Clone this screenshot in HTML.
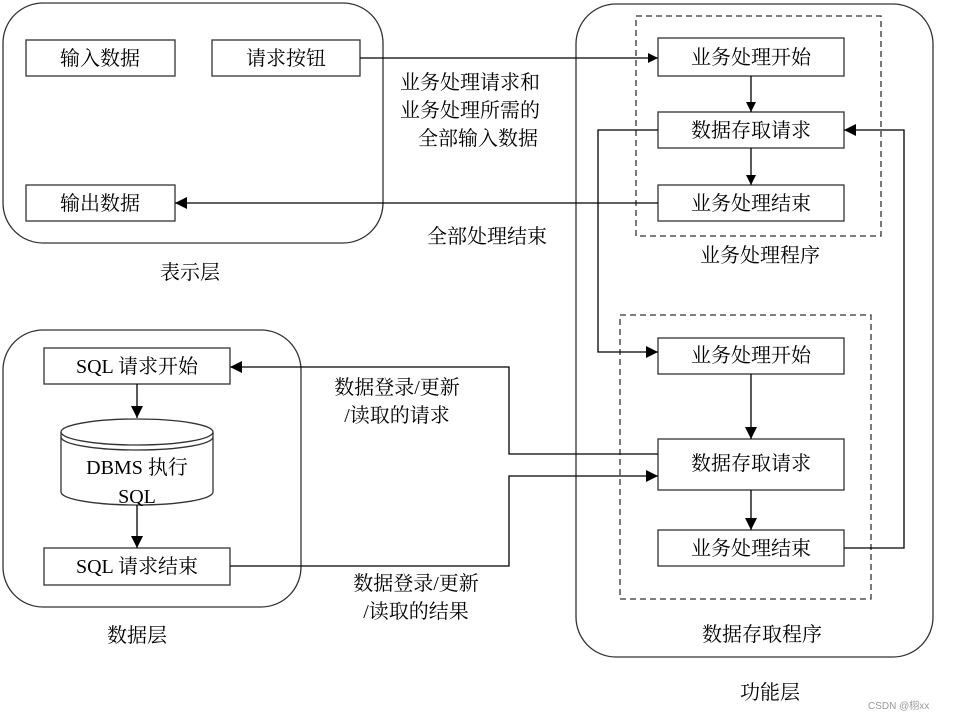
<!DOCTYPE html>
<html><head><meta charset="utf-8"><style>
body{margin:0;background:#fff}
text{font-family:"Liberation Serif","Noto Serif CJK SC",serif;font-size:20px;fill:#000}
</style></head><body>
<svg width="960" height="720" viewBox="0 0 960 720" xmlns="http://www.w3.org/2000/svg">
<defs><marker id="a" viewBox="0 0 10 10" refX="10" refY="5" markerWidth="10" markerHeight="10" markerUnits="userSpaceOnUse" orient="auto"><path d="M0,0L10,5L0,10z" fill="#000"/></marker>
<marker id="b" viewBox="0 0 10 10" refX="10" refY="5" markerWidth="16" markerHeight="12" markerUnits="userSpaceOnUse" orient="auto"><path d="M0,0L10,5L0,10z" fill="#000"/></marker></defs>
<g fill="none" stroke="#333" stroke-width="1.3">
<rect x="3" y="3" width="380" height="240" rx="40"/>
<rect x="3" y="330" width="298" height="277" rx="40"/>
<rect x="576" y="4" width="357" height="653" rx="40"/>
<rect x="636" y="16" width="245" height="220" stroke-dasharray="6,4"/>
<rect x="620" y="315" width="251" height="284" stroke-dasharray="6,4"/>
<rect x="26" y="40" width="149" height="36"/>
<rect x="212" y="40" width="148" height="36"/>
<rect x="26" y="185" width="149" height="36"/>
<rect x="658" y="38" width="186" height="38"/>
<rect x="658" y="112" width="186" height="36"/>
<rect x="658" y="185" width="186" height="36"/>
<rect x="658" y="338" width="186" height="36"/>
<rect x="658" y="439" width="186" height="51"/>
<rect x="658" y="530" width="186" height="36"/>
<rect x="44" y="348" width="186" height="36"/>
<rect x="44" y="548" width="186" height="37"/>
<path d="M61,432 V492 A76,13 0 0 0 213,492 V432" fill="#fff"/>
<ellipse cx="137" cy="432" rx="76" ry="13" fill="#fff"/>
<path d="M61,437 A76,13 0 0 0 213,437"/>
</g>
<g fill="none" stroke="#000" stroke-width="1.3">
<path d="M360,58 H658" marker-end="url(#a)"/>
<path d="M658,203 H175" marker-end="url(#b)"/>
<path d="M751,76 V112" marker-end="url(#a)"/>
<path d="M751,148 V185" marker-end="url(#a)"/>
<path d="M658,130 H598 V352 H658" marker-end="url(#b)"/>
<path d="M844,548 H904 V130 H844" marker-end="url(#b)"/>
<path d="M751,374 V439" marker-end="url(#b)"/>
<path d="M751,490 V530" marker-end="url(#b)"/>
<path d="M658,454 H509 V367 H230" marker-end="url(#b)"/>
<path d="M230,566 H509 V476 H658" marker-end="url(#b)"/>
<path d="M137,384 V418" marker-end="url(#b)"/>
<path d="M137,505 V548" marker-end="url(#b)"/>
</g>
<g text-anchor="middle">
<text x="100" y="65">输入数据</text>
<text x="286" y="65">请求按钮</text>
<text x="100" y="210">输出数据</text>
<text x="190" y="279">表示层</text>
<text x="470" y="89">业务处理请求和</text>
<text x="470" y="117">业务处理所需的</text>
<text x="478" y="145">全部输入数据</text>
<text x="487" y="243">全部处理结束</text>
<text x="751" y="64">业务处理开始</text>
<text x="751" y="137">数据存取请求</text>
<text x="751" y="210">业务处理结束</text>
<text x="760" y="262">业务处理程序</text>
<text x="751" y="362">业务处理开始</text>
<text x="751" y="470">数据存取请求</text>
<text x="751" y="555">业务处理结束</text>
<text x="762" y="641">数据存取程序</text>
<text x="770" y="699">功能层</text>
<text x="137" y="373">SQL 请求开始</text>
<text x="137" y="474">DBMS 执行</text>
<text x="137" y="503">SQL</text>
<text x="137" y="573">SQL 请求结束</text>
<text x="137" y="642">数据层</text>
<text x="397" y="394">数据登录/更新</text>
<text x="397" y="422">/读取的请求</text>
<text x="416" y="590">数据登录/更新</text>
<text x="416" y="618">/读取的结果</text>
</g>
<text x="868" y="709" style="font-family:'Liberation Sans','Noto Sans CJK SC',sans-serif;font-size:10px;fill:#999">CSDN @栩xx</text>
</svg>
</body></html>
